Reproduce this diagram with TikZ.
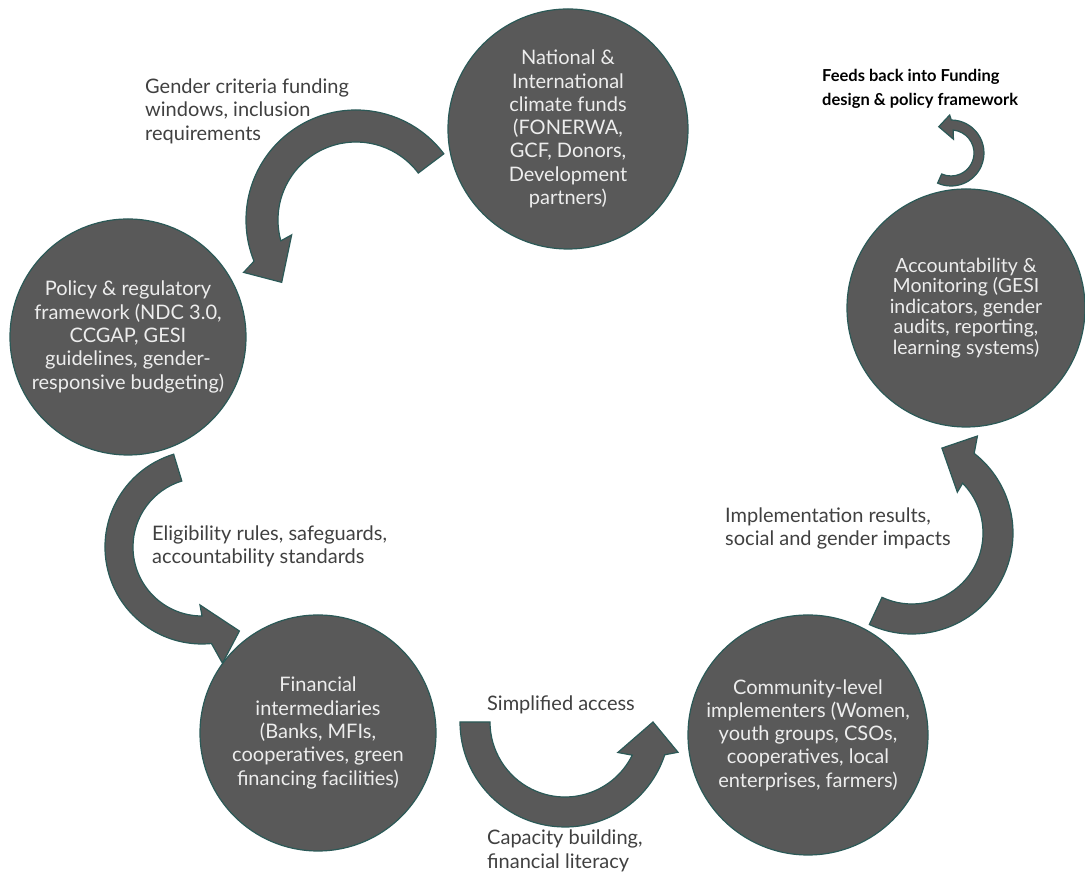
\documentclass[tikz,border=0pt]{standalone}
\usepackage{fontspec}
\setmainfont{Lato}
\definecolor{discfill}{HTML}{595959}
\definecolor{discedge}{HTML}{2B5957}
\definecolor{disctext}{HTML}{EDEDED}
\definecolor{notetext}{HTML}{404040}

\begin{document}
\begin{tikzpicture}[x=1pt, y=1pt,
    disc/.style={circle, fill=discfill, draw=discedge, line width=1.2pt, inner sep=0pt,
      text=disctext, align=center, font=\fontsize{20}{23.3}\selectfont},
    band/.style={fill=discfill, draw=discedge, line width=1.2pt},
    note/.style={anchor=west, inner sep=0pt, align=left, text=notetext,
      font=\fontsize{20}{23.5}\selectfont}]
  \useasboundingbox (0,0) rectangle (1085,872);

  \node[disc, minimum size=240pt] (funds) at (568,743) {National \&\\International\\climate funds\\(FONERWA,\\GCF, Donors,\\Development\\partners)};
  \node[disc, minimum size=236pt] (policy) at (128,535) {Policy \& regulatory\\framework (NDC 3.0,\\CCGAP, GESI\\guidelines, gender-\\responsive budgeting)};
  \node[disc, minimum size=236pt] (finance) at (318,139) {Financial\\intermediaries\\(Banks, MFIs,\\cooperatives, green\\financing facilities)};
  \node[disc, minimum size=240pt] (community) at (808,137) {Community-level\\implementers (Women,\\youth groups, CSOs,\\cooperatives, local\\enterprises, farmers)};
  \node[disc, minimum size=238pt, font=\fontsize{19.5}{20.5}\selectfont] (monitor) at (966,564) {Accountability \&\\Monitoring (GESI\\indicators, gender\\audits, reporting,\\learning systems)};

  \coordinate (arcA) at (356,652);
  \coordinate (arcB) at (202,325);
  \coordinate (arcC) at (565,150);
  \coordinate (arcD) at (912,339);
  \coordinate (arcE) at (951,719);

  \filldraw[band, shift={(arcA)}] (37:110) arc[start angle=37, end angle=202, radius=110]
    -- (205:124) -- (220:97) -- (193:66) -- (195.5:78) arc[start angle=195.5, end angle=37, radius=78] -- cycle;
  \filldraw[band, shift={(arcB)}] (107:97) arc[start angle=107, end angle=275.6, radius=97]
    -- (280:118) -- (294:92) -- (268:58) -- (270:69) arc[start angle=270, end angle=107, radius=69] -- cycle;
  \filldraw[band, shift={(arcC)}] (180:105) arc[start angle=180, end angle=341.8, radius=105]
    -- (345:117) -- (360:88) -- (330:61) -- (333.75:75) arc[start angle=333.75, end angle=180, radius=75] -- cycle;
  \filldraw[band, shift={(arcD)}] (-115:101) arc[start angle=-115, end angle=52, radius=101]
    -- (56:117) -- (70.6:90) -- (42:61) -- (44.5:71) arc[start angle=44.5, end angle=-115, radius=71] -- cycle;
  \filldraw[band, shift={(arcE)}] (-114:33) arc[start angle=-114, end angle=89.5, radius=33]
    -- (92:38) -- (115:29) -- (80:14) -- (84.5:23) arc[start angle=84.5, end angle=-114, radius=23] -- cycle;

  \node[note] (gender) at (145,761) {Gender criteria funding\\windows, inclusion\\requirements};
  \node[note] (rules) at (152,325.5) {Eligibility rules, safeguards,\\accountability standards};
  \node[note] (access) at (487,167) {Simplified access};
  \node[note] (capacity) at (487,21) {Capacity building,\\financial literacy};
  \node[note] (results) at (725,343.5) {Implementation results,\\social and gender impacts};
  \node[note, text=black, font=\bfseries\fontsize{16.5}{24}\selectfont] (feedback) at (822,783) {Feeds back into Funding\\design \& policy framework};
\end{tikzpicture}
\end{document}
